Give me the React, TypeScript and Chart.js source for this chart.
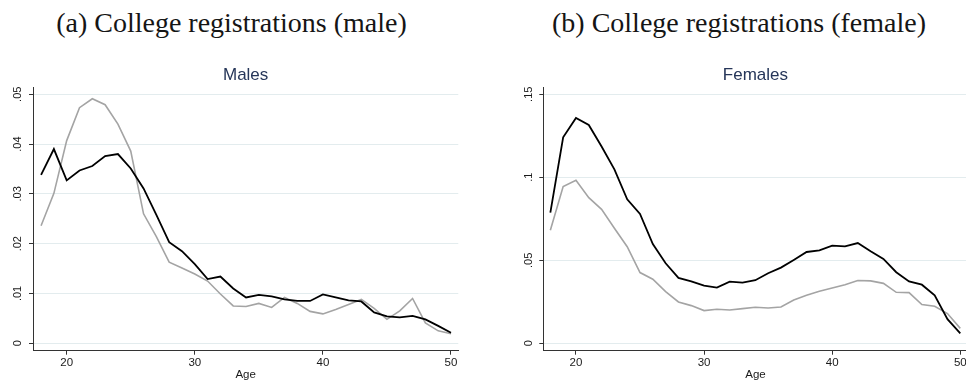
import React, { useEffect, useRef } from "react";
import { Chart, registerables } from "chart.js";

Chart.register(...registerables);

// ---- Data ----
const ages = [18, 19, 20, 21, 22, 23, 24, 25, 26, 27, 28, 29, 30, 31, 32, 33, 34, 35, 36, 37, 38, 39, 40, 41, 42, 43, 44, 45, 46, 47, 48, 49, 50];

const maleBlack = [0.0338, 0.039, 0.0327, 0.0347, 0.0356, 0.0376, 0.038, 0.0351, 0.0311, 0.0258, 0.0203, 0.0185, 0.0159, 0.0129, 0.0134, 0.011, 0.0092, 0.0097, 0.0094, 0.0088, 0.0085, 0.0085, 0.0098, 0.0092, 0.0086, 0.0084, 0.0062, 0.0054, 0.0052, 0.0055, 0.0048, 0.0035, 0.0021];
const maleGray = [0.0236, 0.0301, 0.0407, 0.0473, 0.0491, 0.0479, 0.044, 0.0386, 0.026, 0.0214, 0.0163, 0.0151, 0.0139, 0.0125, 0.0099, 0.0075, 0.0074, 0.008, 0.0072, 0.0092, 0.008, 0.0064, 0.0059, 0.0068, 0.0078, 0.0088, 0.007, 0.0048, 0.0065, 0.009, 0.0041, 0.0025, 0.0019];

const femaleBlack = [0.0787, 0.1241, 0.1357, 0.1315, 0.1185, 0.1048, 0.0867, 0.0779, 0.0598, 0.0482, 0.0394, 0.0373, 0.0347, 0.0335, 0.0371, 0.0365, 0.038, 0.0422, 0.0456, 0.0502, 0.055, 0.056, 0.0588, 0.0584, 0.0604, 0.0554, 0.0508, 0.0428, 0.0373, 0.0353, 0.0289, 0.0145, 0.006];
const femaleGray = [0.0681, 0.0944, 0.0982, 0.0877, 0.0807, 0.0693, 0.0582, 0.0426, 0.0386, 0.0311, 0.0249, 0.0227, 0.0197, 0.0205, 0.0201, 0.0209, 0.0217, 0.0213, 0.0219, 0.0261, 0.0289, 0.0313, 0.0333, 0.0353, 0.0378, 0.0376, 0.0361, 0.0307, 0.0305, 0.0233, 0.0223, 0.0179, 0.009];

const xTickValues = [20, 30, 40, 50];
const xTickLabels = ["20", "30", "40", "50"];

const maleYTickValues = [0, 0.01, 0.02, 0.03, 0.04, 0.05];
const maleYTickLabels = ["0", ".01", ".02", ".03", ".04", ".05"];

const femaleYTickValues = [0, 0.05, 0.1, 0.15];
const femaleYTickLabels = ["0", ".05", ".1", ".15"];

const FONT = "'Liberation Sans', Arial, Helvetica, sans-serif";

type PanelProps = {
  title: string;
  black: number[];
  gray: number[];
  yTicks: number[];
  yLabels: string[];
  xMin: number;
  xMax: number;
  yMin: number;
  yMax: number;
  left: number;
  top: number;
  width: number;
  height: number;
  yAxisWidth: number;
  padRight: number;
};

function Panel(p: PanelProps) {
  const ref = useRef<HTMLCanvasElement | null>(null);
  useEffect(() => {
    if (!ref.current) return;
    const chart = new Chart(ref.current, {
      type: "line",
      data: {
        datasets: [
          {
            label: "black",
            data: ages.map((a, i) => ({ x: a, y: p.black[i] })),
            borderColor: "#000000",
            borderWidth: 1.8,
            pointRadius: 0,
            tension: 0,
            fill: false,
          },
          {
            label: "gray",
            data: ages.map((a, i) => ({ x: a, y: p.gray[i] })),
            borderColor: "#a4a4a4",
            borderWidth: 1.6,
            pointRadius: 0,
            tension: 0,
            fill: false,
          },
        ],
      },
      options: {
        animation: false,
        responsive: false,
        devicePixelRatio: 1,
        events: [],
        layout: { padding: { left: 0, right: p.padRight, top: 0, bottom: 0 } },
        plugins: {
          legend: { display: false },
          tooltip: { enabled: false },
          title: {
            display: true,
            text: p.title,
            fullSize: false,
            color: "#263659",
            font: { family: FONT, size: 17, weight: "normal" },
            padding: { top: 15, bottom: 1.9 },
          },
        },
        scales: {
          x: {
            type: "linear",
            min: p.xMin,
            max: p.xMax,
            afterBuildTicks: (scale: any) => {
              scale.ticks = xTickValues.map((v) => ({ value: v }));
            },
            afterFit: (scale: any) => {
              scale.height = 32.3;
            },
            ticks: {
              callback: (_v: any, i: number) => xTickLabels[i],
              color: "#1a1a1a",
              font: { family: FONT, size: 11.5 },
              padding: 1,
              maxRotation: 0,
              minRotation: 0,
              autoSkip: false,
            },
            grid: {
              drawOnChartArea: false,
              drawTicks: true,
              tickLength: 4,
              tickColor: "#333333",
              color: "#333333",
            },
            border: { display: true, color: "#333333", width: 1 },
            title: {
              display: true,
              text: "Age",
              color: "#1a1a1a",
              font: { family: FONT, size: 11.5 },
              padding: { top: 0, bottom: 1.1 },
            },
          },
          y: {
            type: "linear",
            min: p.yMin,
            max: p.yMax,
            afterBuildTicks: (scale: any) => {
              scale.ticks = p.yTicks.map((v) => ({ value: v }));
            },
            afterFit: (scale: any) => {
              scale.width = p.yAxisWidth;
            },
            ticks: {
              callback: (_v: any, i: number) => p.yLabels[i],
              color: "#1a1a1a",
              font: { family: FONT, size: 11 },
              padding: 3,
              minRotation: 90,
              maxRotation: 90,
              crossAlign: "center",
              autoSkip: false,
            },
            grid: {
              drawOnChartArea: true,
              drawTicks: true,
              tickLength: 4,
              color: "#e3ecee",
              tickColor: "#333333",
              lineWidth: 1,
            },
            border: { display: true, color: "#333333", width: 1 },
          },
        },
      } as any,
    });
    return () => chart.destroy();
  }, []);
  return (
    <canvas
      ref={ref}
      width={p.width}
      height={p.height}
      style={{ position: "absolute", left: p.left, top: p.top, width: p.width, height: p.height }}
    />
  );
}

const captionStyle: React.CSSProperties = {
  position: "absolute",
  top: 7,
  height: 32,
  lineHeight: "32px",
  fontFamily: "'Liberation Serif', 'Times New Roman', serif",
  fontSize: 28,
  color: "#151515",
  textAlign: "center",
  whiteSpace: "nowrap",
};

export default function App() {
  return (
    <div
      style={{
        position: "absolute",
        left: 0,
        top: 0,
        width: 966,
        height: 383,
        overflow: "hidden",
        background: "#ffffff",
      }}
    >
      <div style={{ ...captionStyle, left: 0, width: 463 }}>(a) College registrations (male)</div>
      <div style={{ ...captionStyle, left: 512, width: 454 }}>(b) College registrations (female)</div>
      <Panel
        title="Males"
        black={maleBlack}
        gray={maleGray}
        yTicks={maleYTickValues}
        yLabels={maleYTickLabels}
        xMin={17.37}
        xMax={50.57}
        yMin={-0.00149}
        yMax={0.0514}
        left={0}
        top={50}
        width={483}
        height={333}
        yAxisWidth={33}
        padRight={24.7}
      />
      <Panel
        title="Females"
        black={femaleBlack}
        gray={femaleGray}
        yTicks={femaleYTickValues}
        yLabels={femaleYTickLabels}
        xMin={17.45}
        xMax={50.57}
        yMin={-0.00446}
        yMax={0.1542}
        left={510}
        top={50}
        width={480}
        height={333}
        yAxisWidth={33.3}
        padRight={22.4}
      />
    </div>
  );
}
